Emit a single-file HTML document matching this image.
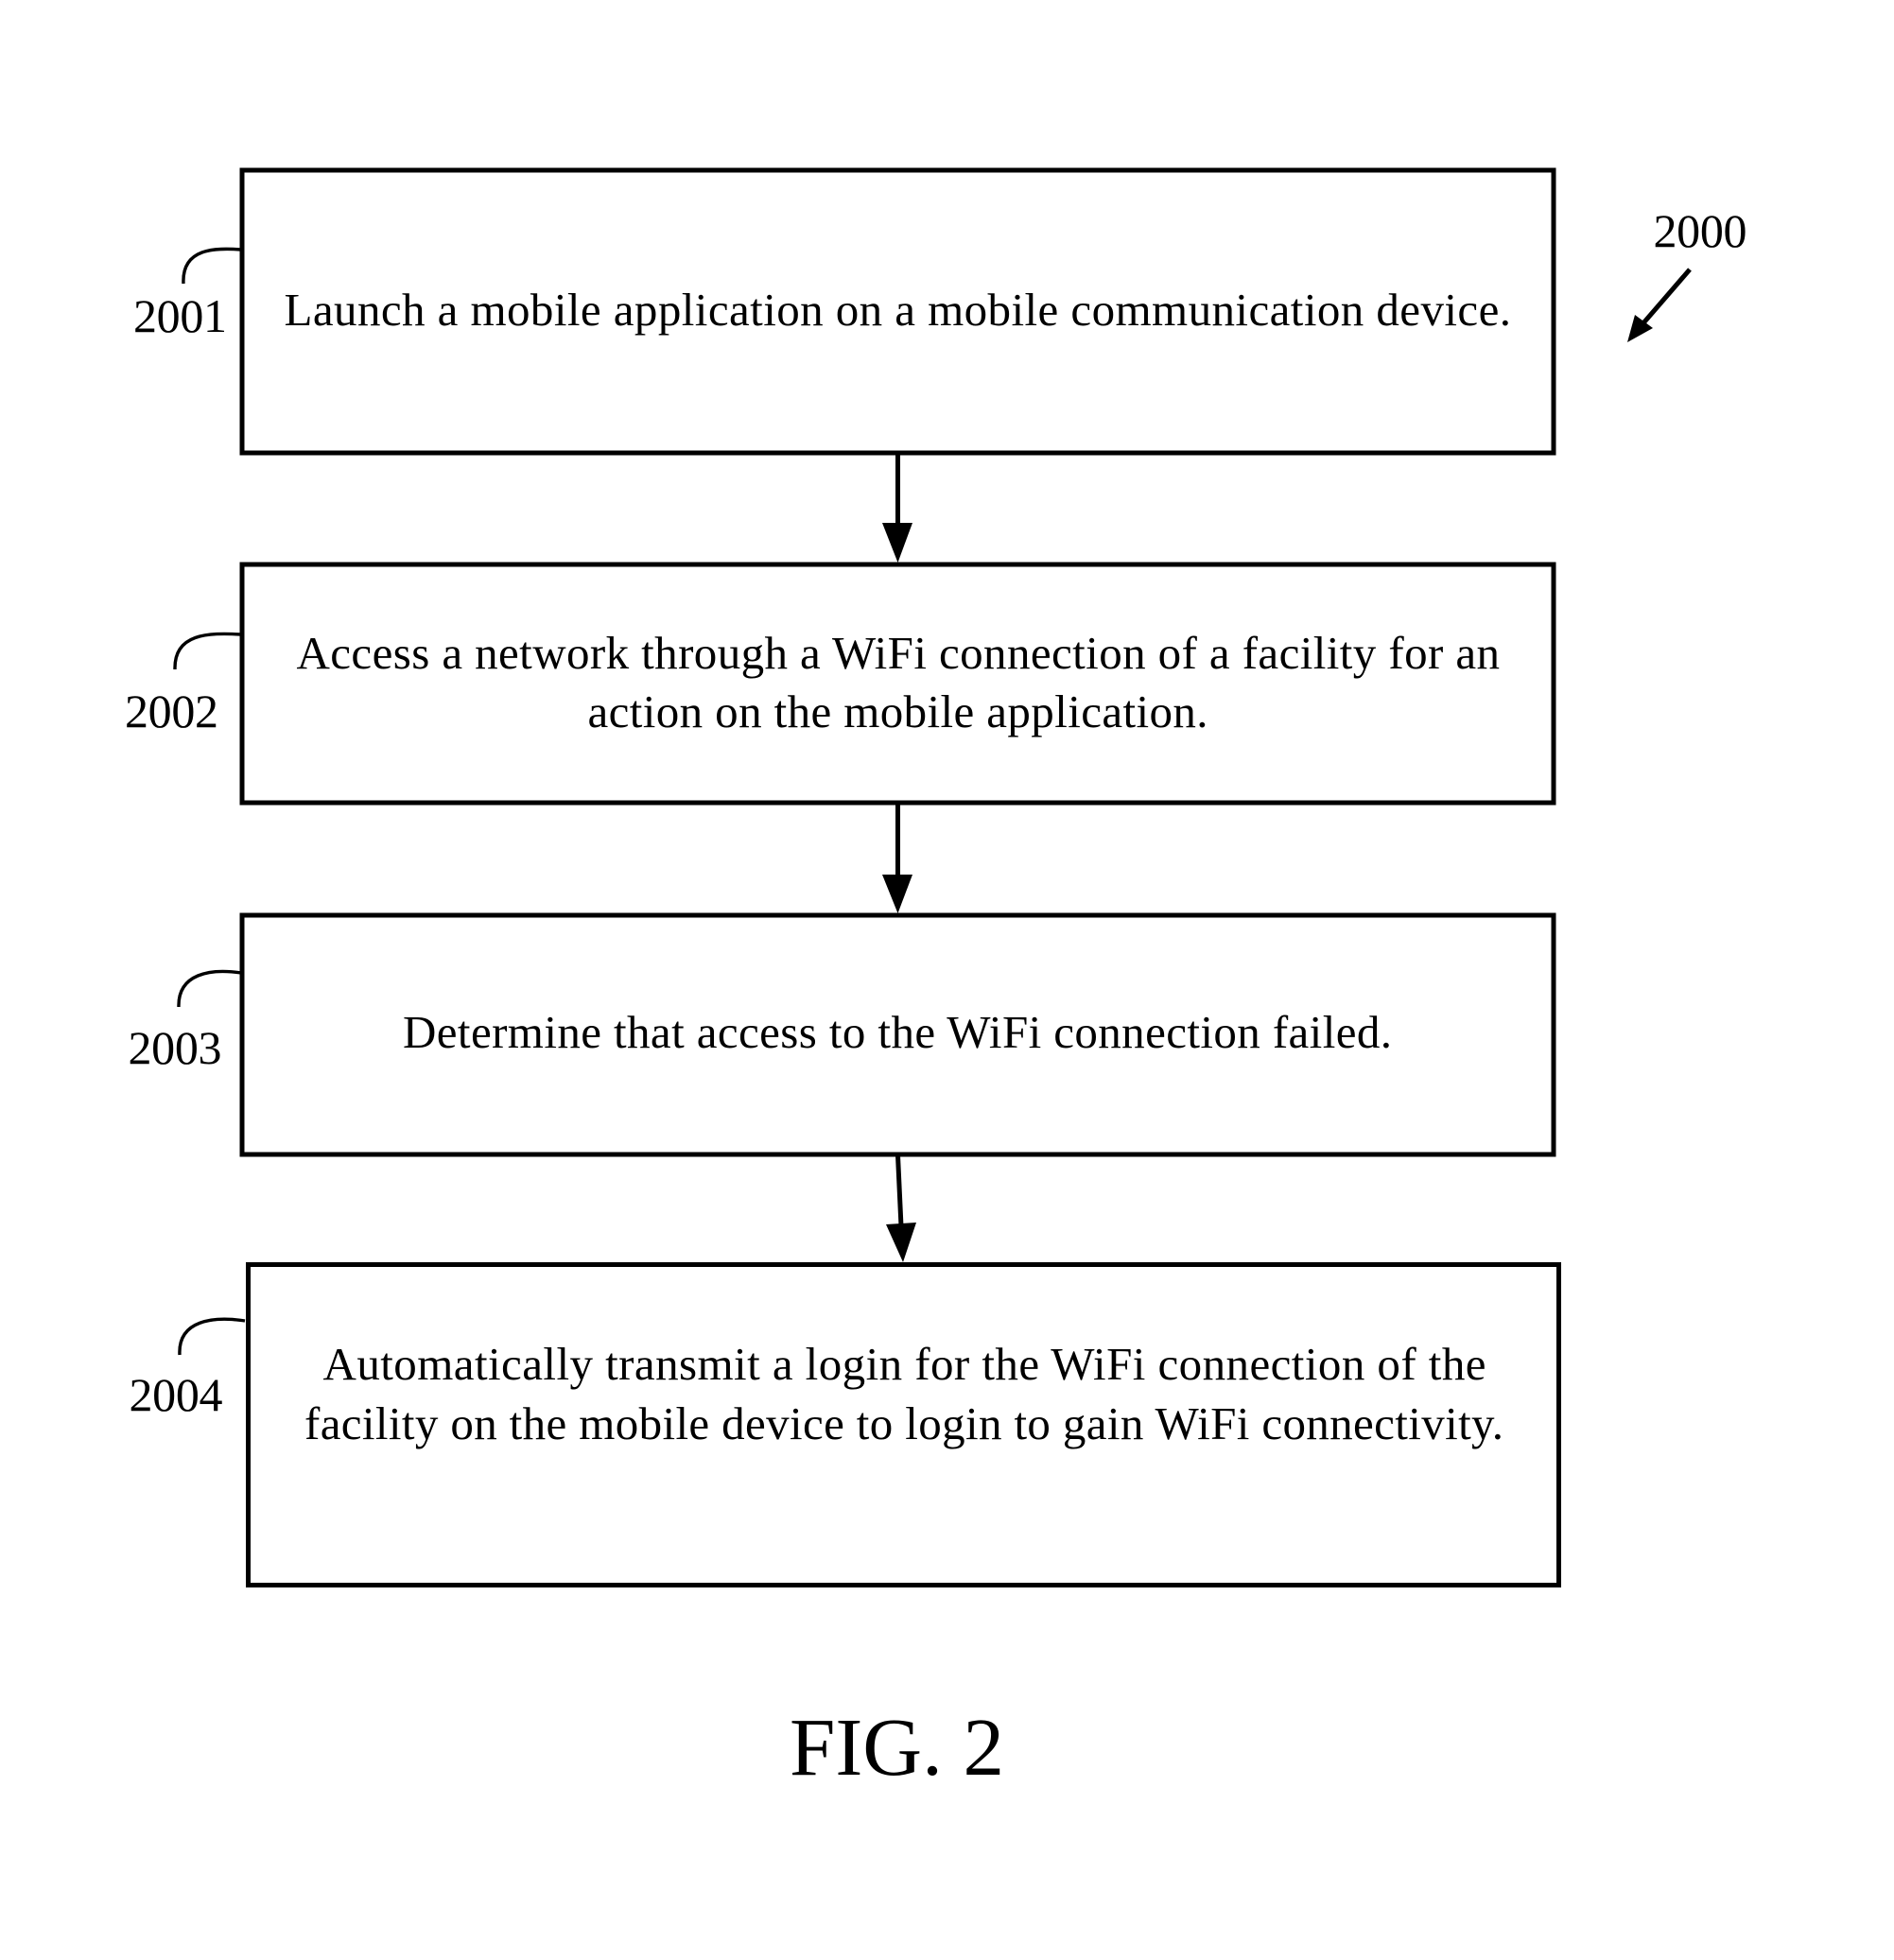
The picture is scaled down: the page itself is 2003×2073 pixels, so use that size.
<!DOCTYPE html>
<html>
<head>
<meta charset="utf-8">
<style>
html,body{margin:0;padding:0;background:#fff;}
svg{display:block;}
text{font-family:"Liberation Serif",serif;fill:#000;}
.t{font-size:49px;}
.n{font-size:50px;}
</style>
</head>
<body>
<svg width="2003" height="2073" viewBox="0 0 2003 2073" xmlns="http://www.w3.org/2000/svg">
<rect width="2003" height="2073" fill="#fff"/>
<g fill="none" stroke="#000" stroke-width="5">
<rect x="256" y="180" width="1387" height="299"/>
<rect x="256" y="597" width="1387" height="252"/>
<rect x="256" y="968" width="1387" height="253"/>
<rect x="262.5" y="1337.5" width="1386" height="339"/>
<line x1="949.5" y1="480" x2="949.5" y2="556"/>
<line x1="949.5" y1="850" x2="949.5" y2="928"/>
<line x1="949.5" y1="1222" x2="953" y2="1297"/>
<line x1="1787" y1="285" x2="1736" y2="344"/>
</g>
<g fill="#000">
<polygon points="933,553 965,553 949.5,595"/>
<polygon points="933,925 965,925 949.5,966"/>
<polygon points="937,1295 969,1293 955,1335"/>
<polygon points="1729,333 1748,347 1721,362"/>
</g>
<g fill="none" stroke="#000" stroke-width="3.4">
<path d="M255 264 C228 262 192 262 194 300"/>
<path d="M255 671 C220 669 184 670 185 708"/>
<path d="M255 1029 C222 1024 188 1030 189 1065"/>
<path d="M259 1397 C226 1392 188 1396 190 1433"/>
</g>
<text class="t" x="300.5" y="344" textLength="1297.5" lengthAdjust="spacing">Launch a mobile application on a mobile communication device.</text>
<text class="t" x="313.5" y="707" textLength="1272.5" lengthAdjust="spacing">Access a network through a WiFi connection of a facility for an</text>
<text class="t" x="621.5" y="769" textLength="656" lengthAdjust="spacing">action on the mobile application.</text>
<text class="t" x="426" y="1108" textLength="1046" lengthAdjust="spacing">Determine that access to the WiFi connection failed.</text>
<text class="t" x="341.5" y="1459" textLength="1230" lengthAdjust="spacing">Automatically transmit a login for the WiFi connection of the</text>
<text class="t" x="322" y="1522" textLength="1268" lengthAdjust="spacing">facility on the mobile device to login to gain WiFi connectivity.</text>
<text class="n" x="1748.5" y="261" textLength="99" lengthAdjust="spacing">2000</text>
<text class="n" x="141" y="351" textLength="99" lengthAdjust="spacing">2001</text>
<text class="n" x="132" y="769" textLength="99" lengthAdjust="spacing">2002</text>
<text class="n" x="135.5" y="1125" textLength="99" lengthAdjust="spacing">2003</text>
<text class="n" x="136.5" y="1492" textLength="99" lengthAdjust="spacing">2004</text>
<text x="835" y="1877" font-size="87" textLength="227" lengthAdjust="spacing">FIG. 2</text>
</svg>
</body>
</html>
